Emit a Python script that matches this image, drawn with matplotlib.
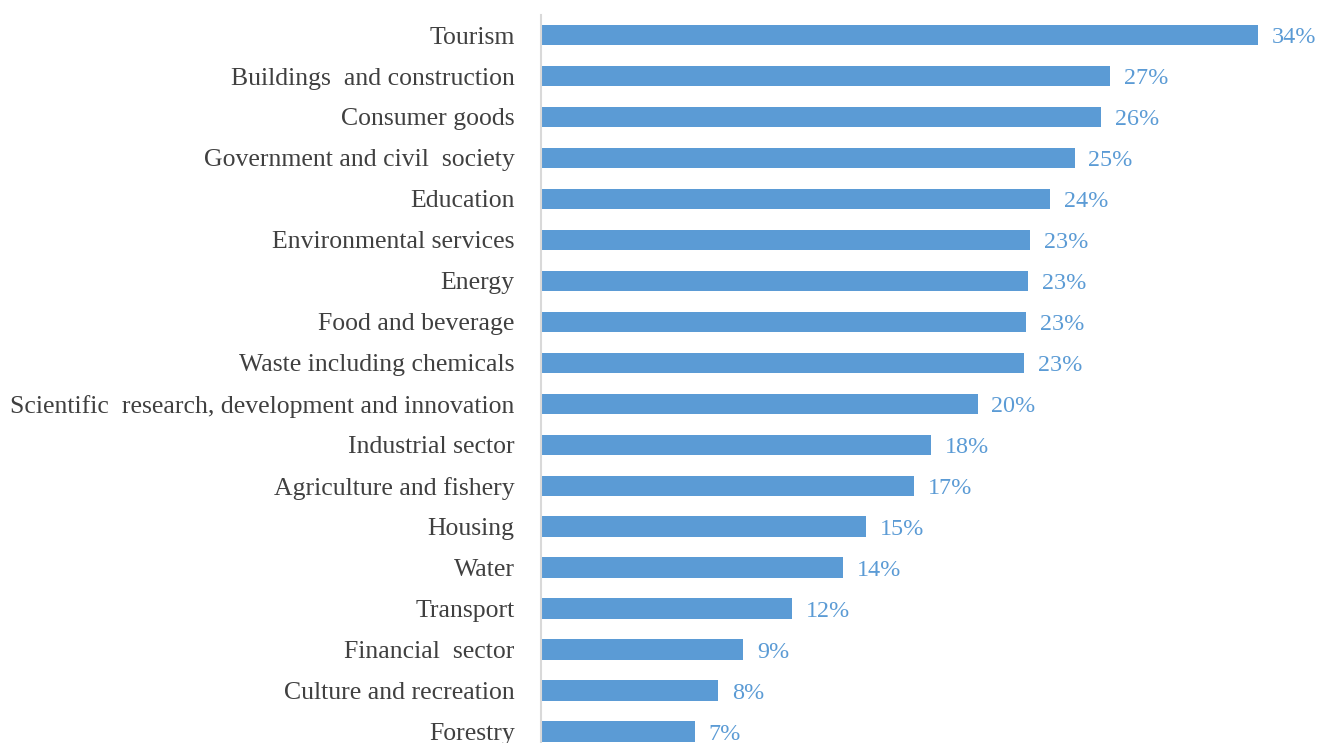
import matplotlib.pyplot as plt

# sectors, top to bottom
sectors = [
    "Tourism", "Buildings  and construction", "Consumer goods",
    "Government and civil  society", "Education", "Environmental services",
    "Energy", "Food and beverage", "Waste including chemicals",
    "Scientific  research, development and innovation", "Industrial sector",
    "Agriculture and fishery", "Housing", "Water", "Transport",
    "Financial  sector", "Culture and recreation", "Forestry",
]
# bar lengths (%)
shares = [34.0, 27.0, 26.55, 25.3, 24.15, 23.2, 23.1, 23.0, 22.9,
          20.7, 18.5, 17.7, 15.4, 14.3, 11.9, 9.6, 8.4, 7.3]
# printed labels
share_labels = ["34%", "27%", "26%", "25%", "24%", "23%", "23%", "23%", "23%",
                "20%", "18%", "17%", "15%", "14%", "12%", "9%", "8%", "7%"]

bar_color = "#5B9BD5"
text_color = "#404040"

plt.rcParams["font.family"] = ["Liberation Serif", "DejaVu Serif"]

fig = plt.figure(figsize=(13.17, 7.43), dpi=100)
ax = fig.add_axes([541 / 1317, 0, 1 - 541 / 1317, 1 - 15 / 743])

pos = list(range(len(sectors)))
ax.barh(pos, shares, height=0.51, color=bar_color)

for p, v, lab in zip(pos, shares, share_labels):
    ax.annotate(lab, (v, p), xytext=(10, -1.5), textcoords="offset points",
                va="center", ha="left", fontsize=17.4, color=bar_color)

ax.set_yticks(pos)
ax.set_yticklabels(sectors, fontsize=18.5, color=text_color)
ax.tick_params(axis="y", length=0, pad=19)
ax.set_xticks([])

ax.set_xlim(0, 776 / (717 / 34.0))
ax.set_ylim(17.27, -0.488)

for s in ["top", "right", "bottom"]:
    ax.spines[s].set_visible(False)
ax.spines["left"].set_color("#D9D9D9")
ax.spines["left"].set_linewidth(1.5)

fig.savefig("out.png", dpi=100)
